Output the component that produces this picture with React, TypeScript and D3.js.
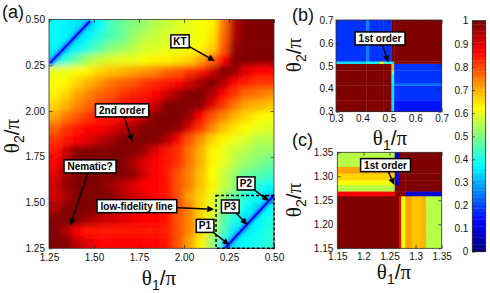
import * as d3 from 'd3';
import React, { useRef, useEffect } from 'react';

// (a) fidelity map, rows from theta2 = 2.5 (top) down to 1.25, columns theta1 = 1.25 .. 2.5
const fidelityA = [
  [0.38, 0.37, 0.35, 0.33, 0.38, 0.44, 0.47, 0.50, 0.52, 0.55, 0.57, 0.58, 0.60, 0.62, 0.64, 0.76, 0.95, 1, 1, 1],
  [0.38, 0.36, 0.33, 0.36, 0.42, 0.45, 0.48, 0.52, 0.55, 0.57, 0.58, 0.60, 0.61, 0.62, 0.65, 0.77, 0.96, 1, 1, 1],
  [0.37, 0.33, 0.37, 0.42, 0.46, 0.50, 0.53, 0.56, 0.58, 0.59, 0.60, 0.61, 0.62, 0.63, 0.67, 0.80, 0.98, 1, 1, 1],
  [0.33, 0.42, 0.48, 0.54, 0.57, 0.59, 0.60, 0.61, 0.62, 0.63, 0.64, 0.65, 0.67, 0.71, 0.78, 0.88, 1, 1, 1, 1],
  [0.60, 0.60, 0.62, 0.64, 0.66, 0.68, 0.70, 0.72, 0.73, 0.75, 0.78, 0.80, 0.82, 0.85, 0.92, 1, 0.98, 0.90, 0.88, 0.88],
  [0.62, 0.64, 0.67, 0.70, 0.73, 0.76, 0.78, 0.80, 0.82, 0.84, 0.86, 0.88, 0.92, 0.97, 1, 0.95, 0.88, 0.85, 0.83, 0.82],
  [0.63, 0.67, 0.71, 0.75, 0.78, 0.80, 0.82, 0.84, 0.86, 0.88, 0.92, 0.97, 1, 1, 0.95, 0.88, 0.82, 0.78, 0.76, 0.75],
  [0.66, 0.70, 0.74, 0.78, 0.81, 0.83, 0.85, 0.87, 0.89, 0.93, 1, 1, 1, 0.98, 0.90, 0.82, 0.76, 0.72, 0.70, 0.68],
  [0.72, 0.76, 0.80, 0.83, 0.85, 0.86, 0.87, 0.90, 0.96, 1, 1, 1, 0.97, 0.88, 0.80, 0.74, 0.70, 0.66, 0.64, 0.62],
  [0.78, 0.82, 0.85, 0.87, 0.88, 0.90, 0.93, 0.97, 1, 1, 1, 0.98, 0.90, 0.82, 0.75, 0.69, 0.65, 0.62, 0.60, 0.58],
  [0.82, 0.85, 0.87, 0.90, 0.93, 0.97, 1, 1, 1, 1, 0.95, 0.88, 0.80, 0.73, 0.67, 0.63, 0.60, 0.58, 0.56, 0.55],
  [0.86, 0.92, 1, 1, 1, 1, 1, 1, 0.97, 0.90, 0.86, 0.82, 0.76, 0.70, 0.64, 0.60, 0.57, 0.55, 0.53, 0.52],
  [0.88, 0.95, 1, 1, 1, 1, 1, 0.96, 0.90, 0.88, 0.86, 0.82, 0.76, 0.70, 0.64, 0.60, 0.56, 0.52, 0.50, 0.48],
  [0.90, 0.97, 1, 1, 1, 1, 1, 0.98, 0.92, 0.88, 0.86, 0.80, 0.74, 0.68, 0.62, 0.57, 0.52, 0.48, 0.46, 0.44],
  [0.92, 0.98, 1, 1, 1, 0.97, 0.94, 0.90, 0.88, 0.87, 0.85, 0.80, 0.74, 0.68, 0.63, 0.57, 0.52, 0.46, 0.42, 0.38],
  [0.92, 0.96, 1, 1, 1, 1, 0.95, 0.92, 0.90, 0.88, 0.86, 0.80, 0.72, 0.66, 0.61, 0.53, 0.46, 0.42, 0.38, 0.34],
  [0.95, 1, 1, 1, 0.98, 0.95, 0.92, 0.90, 0.88, 0.87, 0.85, 0.80, 0.74, 0.67, 0.60, 0.50, 0.44, 0.38, 0.34, 0.38],
  [1, 1, 1, 0.97, 0.94, 0.92, 0.90, 0.89, 0.88, 0.87, 0.85, 0.80, 0.74, 0.66, 0.58, 0.46, 0.40, 0.34, 0.36, 0.40],
  [1, 0.96, 0.88, 0.86, 0.86, 0.86, 0.86, 0.86, 0.86, 0.85, 0.84, 0.80, 0.74, 0.66, 0.56, 0.44, 0.35, 0.35, 0.38, 0.42],
  [1, 1, 0.94, 0.90, 0.88, 0.88, 0.88, 0.88, 0.88, 0.87, 0.85, 0.80, 0.72, 0.64, 0.52, 0.36, 0.35, 0.38, 0.40, 0.42],
];

// (a) thin low-fidelity lines, [theta1, theta2] end points
const lowLineTopLeft = [[1.2556, 2.262], [1.478, 2.492]];
const lowLineBottomRight = [[2.228, 1.25], [2.5, 1.540]];
const lowLineValue = 0.12;

// (b) cell edges and values (rows from theta2 = 0.3 upward)
const bTheta1Edges = [0.3, 0.415, 0.425, 0.465, 0.48, 0.51, 0.52, 0.7];
const bTheta2Edges = [0.3, 0.35, 0.415, 0.425, 0.465, 0.48, 0.51, 0.52, 0.7];
const fidelityB = [
  [1, 1, 1, 1, 1, 0.35, 0.15],
  [1, 1, 1, 1, 1, 0.35, 0.17],
  [1, 1, 1, 1, 1, 0.35, 0.24],
  [1, 1, 1, 1, 1, 0.38, 0.18],
  [1, 1, 1, 1, 1, 0.50, 0.18],
  [1, 1, 1, 1, 1, 0.70, 0.18],
  [0.35, 0.40, 0.38, 0.62, 0.42, 0.35, 1],
  [0.18, 0.25, 0.17, 0.17, 0.17, 1, 1],
];

// (c) cell edges and values (rows from theta2 = 1.15 upward)
const cTheta1Edges = [1.15, 1.26, 1.268, 1.272, 1.28, 1.293, 1.31, 1.32, 1.35];
const cTheta2Edges = [1.15, 1.259, 1.269, 1.282, 1.292, 1.306, 1.32, 1.35];
const fidelityC = [
  [1, 1, 0.88, 0.62, 0.72, 0.68, 0.70, 0.56],
  [0.88, 1, 1, 1, 0.08, 0.08, 0.08, 0.08],
  [0.56, 1, 1, 1, 1, 1, 1, 1],
  [0.62, 0.10, 1, 1, 1, 1, 1, 1],
  [0.67, 0.10, 1, 1, 1, 1, 1, 1],
  [0.72, 0.10, 1, 1, 1, 1, 1, 1],
  [0.55, 0.10, 1, 1, 1, 1, 1, 1],
];

const ticksA = [1.25, 1.5, 1.75, 2.0, 2.25, 2.5];
const ticksB = [0.3, 0.4, 0.5, 0.6, 0.7];
const ticksC = [1.15, 1.2, 1.25, 1.3, 1.35];
const ticksBar = [0, 0.1, 0.2, 0.3, 0.4, 0.5, 0.6, 0.7, 0.8, 0.9, 1];

// labels placed in data coordinates: box centre and arrow tip
const notesA = [
  { text: 'KT', at: [1.978, 2.381], tip: [2.172, 2.273] },
  { text: '2nd order', at: [1.656, 2.004], tip: [1.713, 1.832] },
  { text: 'Nematic?', at: [1.478, 1.698], tip: [1.367, 1.373] },
  { text: 'low-fidelity line', at: [1.737, 1.481], tip: [2.168, 1.463] },
  { text: 'P1', at: [2.116, 1.373], tip: [2.252, 1.268] },
  { text: 'P3', at: [2.256, 1.479], tip: [2.352, 1.377] },
  { text: 'P2', at: [2.344, 1.605], tip: [2.472, 1.508] },
];
const noteB = { text: '1st order', at: [0.4665, 0.62], tip: [0.498, 0.5155] };
const noteC = { text: '1st order', at: [1.2423, 1.3235], tip: [1.2592, 1.2819] };

const SANS = 'Liberation Sans, Arial, sans-serif';
const SERIF = 'Liberation Serif, Times New Roman, serif';

function jet(v) {
  const t = Math.round(Math.max(0, Math.min(1, v)) * 63) / 63;
  const c = x => Math.round(255 * Math.max(0, Math.min(1, x)));
  return `rgb(${c(1.5 - Math.abs(4 * t - 3))},${c(1.5 - Math.abs(4 * t - 2))},${c(1.5 - Math.abs(4 * t - 1))})`;
}

function frameAxes(g, sx, sy, xt, yt, fx, fy, padX, padY) {
  const [x0, x1] = sx.range();
  const [y0, y1] = sy.range();
  const style = sel => {
    sel.select('.domain').remove();
    sel.selectAll('text').attr('font-family', SANS).attr('font-size', 10).attr('fill', '#111');
    sel.selectAll('line').attr('stroke', '#222').attr('stroke-width', 0.7);
  };
  g.append('g').attr('transform', `translate(0,${y0})`)
    .call(d3.axisBottom(sx).tickValues(xt).tickFormat(fx).tickSize(-3.5).tickPadding(padX)).call(style);
  g.append('g').attr('transform', `translate(0,${y1})`)
    .call(d3.axisTop(sx).tickValues(xt).tickFormat(() => '').tickSize(-3.5)).call(style);
  g.append('g').attr('transform', `translate(${x0},0)`)
    .call(d3.axisLeft(sy).tickValues(yt).tickFormat(fy).tickSize(-3.5).tickPadding(padY)).call(style);
  g.append('g').attr('transform', `translate(${x1},0)`)
    .call(d3.axisRight(sy).tickValues(yt).tickFormat(() => '').tickSize(-3.5)).call(style);
  g.append('rect').attr('x', x0).attr('y', y1).attr('width', x1 - x0).attr('height', y0 - y1)
    .attr('fill', 'none').attr('stroke', '#333').attr('stroke-width', 0.8);
}

function thetaLabel(g, x, y, sub, rotate) {
  const t = g.append('text')
    .attr('transform', `translate(${x},${y})${rotate ? ' rotate(-90)' : ''}`)
    .attr('text-anchor', 'middle').attr('font-size', 21).attr('fill', '#111');
  t.append('tspan').attr('font-family', SERIF).text('θ');
  t.append('tspan').attr('font-family', SANS).attr('font-size', 14).attr('dy', 4.5).text(sub);
  t.append('tspan').attr('font-family', SANS).attr('dy', -4.5).text('/');
  t.append('tspan').attr('font-family', SERIF).text('π');
}

function annotate(g, sx, sy, a) {
  const x0 = sx(a.at[0]), y0 = sy(a.at[1]);
  const x1 = sx(a.tip[0]), y1 = sy(a.tip[1]);
  const ang = Math.atan2(y1 - y0, x1 - x0);
  const hl = 7, hw = 3.2;
  const bx = x1 - hl * Math.cos(ang), by = y1 - hl * Math.sin(ang);
  g.append('line').attr('x1', x0).attr('y1', y0).attr('x2', bx).attr('y2', by)
    .attr('stroke', '#000').attr('stroke-width', 1.5);
  g.append('path')
    .attr('d', `M${x1},${y1}L${bx + hw * Math.sin(ang)},${by - hw * Math.cos(ang)}L${bx - hw * Math.sin(ang)},${by + hw * Math.cos(ang)}Z`)
    .attr('fill', '#000');
  const box = g.append('rect');
  const t = g.append('text').attr('x', x0).attr('y', y0).attr('dy', '0.36em')
    .attr('text-anchor', 'middle').attr('font-family', SANS).attr('font-weight', 'bold')
    .attr('font-size', 10).attr('fill', '#000').text(a.text);
  const bb = t.node().getBBox();
  const px = a.text.length <= 2 ? 2.5 : 3.5;
  box.attr('x', bb.x - px).attr('y', bb.y - 1).attr('width', bb.width + 2 * px).attr('height', bb.height + 2)
    .attr('fill', '#fff').attr('stroke', '#000').attr('stroke-width', 1.5);
}

function edgeCells(g, sx, sy, e1, e2, values) {
  values.forEach((row, j) => row.forEach((v, i) => {
    g.append('rect')
      .attr('x', sx(e1[i])).attr('width', sx(e1[i + 1]) - sx(e1[i]) + 0.3)
      .attr('y', sy(e2[j + 1])).attr('height', sy(e2[j]) - sy(e2[j + 1]) + 0.3)
      .attr('fill', jet(v));
  }));
}

const App = () => {
  const ref = useRef(null);

  useEffect(() => {
    const svg = d3.select(ref.current);
    svg.selectAll('*').remove();
    const defs = svg.append('defs');

    // ---------- (a)
    const ax = d3.scaleLinear().domain([1.25, 2.5]).range([49, 274]);
    const ay = d3.scaleLinear().domain([1.25, 2.5]).range([248.3, 19.5]);
    const nRows = fidelityA.length, nCols = fidelityA[0].length;
    const bx = d3.scaleBand().domain(d3.range(nCols)).range(ax.range());
    const by = d3.scaleBand().domain(d3.range(nRows)).range([ay.range()[1], ay.range()[0]]);

    defs.append('clipPath').attr('id', 'clipA').append('rect')
      .attr('x', 49).attr('y', 19.5).attr('width', 225).attr('height', 228.8);
    defs.append('filter').attr('id', 'smooth').attr('x', '-10%').attr('y', '-10%')
      .attr('width', '120%').attr('height', '120%')
      .append('feGaussianBlur').attr('stdDeviation', 3);
    defs.append('filter').attr('id', 'soft')
      .append('feGaussianBlur').attr('stdDeviation', 1.2);

    const plotA = svg.append('g').attr('clip-path', 'url(#clipA)');
    const cells = plotA.append('g').attr('filter', 'url(#smooth)');
    const ext = 14;
    fidelityA.forEach((row, r) => row.forEach((v, c) => {
      const left = c === 0 ? ext : 0, right = c === nCols - 1 ? ext : 0;
      const top = r === 0 ? ext : 0, bottom = r === nRows - 1 ? ext : 0;
      cells.append('rect')
        .attr('x', bx(c) - left).attr('width', bx.bandwidth() + left + right + 0.5)
        .attr('y', by(r) - top).attr('height', by.bandwidth() + top + bottom + 0.5)
        .attr('fill', jet(v));
    }));

    const lineGen = d3.line().x(d => ax(d[0])).y(d => ay(d[1]));
    [lowLineTopLeft, lowLineBottomRight].forEach(seg => {
      plotA.append('path').attr('d', lineGen(seg)).attr('fill', 'none')
        .attr('stroke', jet(0.27)).attr('stroke-width', 6).attr('filter', 'url(#soft)');
      plotA.append('path').attr('d', lineGen(seg)).attr('fill', 'none')
        .attr('stroke', jet(lowLineValue)).attr('stroke-width', 2);
    });

    const gA = svg.append('g');
    frameAxes(gA, ax, ay, ticksA, ticksA,
      d => (d > 2.01 ? d - 2 : d).toFixed(2), d => (d > 2.01 ? d - 2 : d).toFixed(2), 5.5, 4);

    gA.append('rect')
      .attr('x', ax(2.178)).attr('y', ay(1.539))
      .attr('width', ax(2.5) - ax(2.178)).attr('height', ay(1.25) - ay(1.539))
      .attr('fill', 'none').attr('stroke', '#000').attr('stroke-width', 1.5).attr('stroke-dasharray', '3,2');
    notesA.forEach(a => annotate(gA, ax, ay, a));

    // ---------- (b)
    const bsx = d3.scaleLinear().domain([0.3, 0.7]).range([336, 441.7]);
    const bsy = d3.scaleLinear().domain([0.3, 0.7]).range([111.7, 20]);
    const gB = svg.append('g');
    edgeCells(gB, bsx, bsy, bTheta1Edges, bTheta2Edges, fidelityB);
    frameAxes(gB, bsx, bsy, ticksB, ticksB, d3.format('.1f'), d3.format('.1f'), 3.5, 2.5);
    annotate(gB, bsx, bsy, noteB);

    // ---------- (c)
    const csx = d3.scaleLinear().domain([1.15, 1.35]).range([337.3, 441.7]);
    const csy = d3.scaleLinear().domain([1.15, 1.35]).range([248.3, 152.3]);
    const gC = svg.append('g');
    edgeCells(gC, csx, csy, cTheta1Edges, cTheta2Edges, fidelityC);
    frameAxes(gC, csx, csy, ticksC, ticksC, d => String(+d.toFixed(2)), d3.format('.2f'), 5, 4);
    annotate(gC, csx, csy, noteC);

    // ---------- colour bar
    const cb = d3.scaleLinear().domain([0, 1]).range([251.7, 20.7]);
    const steps = d3.range(64);
    const gBar = svg.append('g');
    gBar.selectAll('rect.step').data(steps).enter().append('rect')
      .attr('x', 472.3).attr('width', 13.4)
      .attr('y', k => cb((k + 1) / 64)).attr('height', cb(0) - cb(1 / 64) + 0.3)
      .attr('fill', k => jet(k / 63));
    gBar.append('rect').attr('x', 472.3).attr('y', 20.7).attr('width', 13.4).attr('height', 231)
      .attr('fill', 'none').attr('stroke', '#222').attr('stroke-width', 0.8);
    const barAxis = gBar.append('g').attr('transform', 'translate(472.3,0)')
      .call(d3.axisLeft(cb).tickValues(ticksBar).tickSize(-2.5).tickPadding(4)
        .tickFormat(d => (d === 0 || d === 1 ? String(d) : d.toFixed(1))));
    barAxis.select('.domain').remove();
    barAxis.selectAll('text').attr('font-family', SANS).attr('font-size', 10).attr('fill', '#111');
    barAxis.selectAll('line').attr('stroke', '#222').attr('stroke-width', 0.7);

    // ---------- labels
    thetaLabel(svg, 159, 285, '1', false);
    thetaLabel(svg, 19, 136, '2', true);
    thetaLabel(svg, 390, 145, '1', false);
    thetaLabel(svg, 301, 55, '2', true);
    thetaLabel(svg, 394, 279, '1', false);
    thetaLabel(svg, 301, 200, '2', true);

    const panel = (x, y, s) => svg.append('text').attr('x', x).attr('y', y)
      .attr('font-family', SANS).attr('font-size', 18).attr('fill', '#111').text(s);
    panel(2, 18, '(a)');
    panel(292, 21, '(b)');
    panel(292, 146, '(c)');
  }, []);

  return (
    <svg ref={ref} width={490} height={293}
      style={{ position: 'absolute', left: 0, top: 0, background: '#fff' }} />
  );
};

export default App;
